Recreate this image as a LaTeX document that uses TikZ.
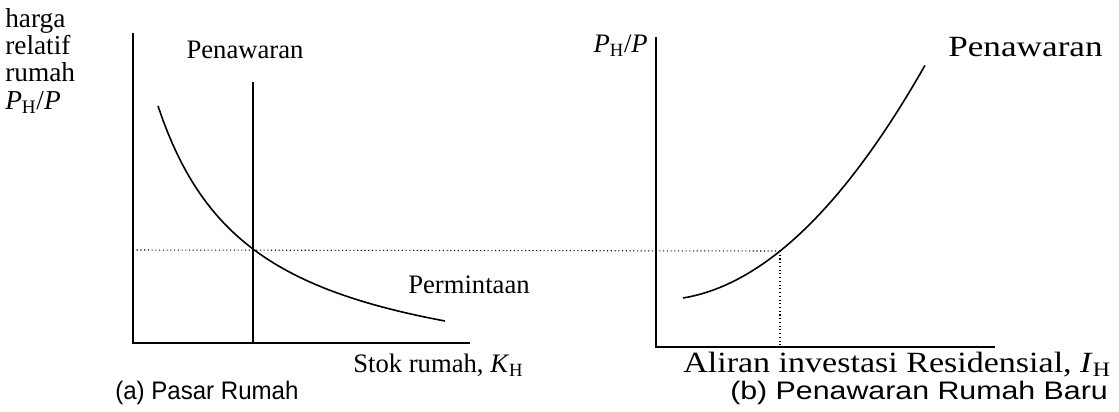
\documentclass[tikz,border=0pt]{standalone}
\usepackage{fontspec}
\setmainfont{Liberation Serif}
\setsansfont[FakeStretch=0.95]{Liberation Sans}
\newcommand{\PH}{\textit{P}\textsubscript{H}}
\begin{document}
\begin{tikzpicture}[x=0.75pt,y=-0.75pt,
  axis/.style={line width=1.5pt},
  curve/.style={line width=1.2pt},
  guide/.style={line width=0.8pt,dotted},
  lbl/.style={inner sep=0pt,font=\fontsize{20}{19.5}\selectfont},
  lblY/.style={inner sep=0pt,font=\fontsize{20.5}{20.5}\selectfont},
  lblB/.style={inner sep=0pt,font=\fontsize{22}{24}\selectfont},
  captxt/.style={inner sep=0pt,font=\sffamily\fontsize{19}{20}\selectfont}]
\useasboundingbox (0,0) rectangle (1119,411);
% ---------- panel (a)
\coordinate (aTop) at (133,33);
\coordinate (aO) at (133,343);
\coordinate (aEnd) at (470,343);
\draw[axis] (aTop) -- (aO) -- (aEnd);
\coordinate (sTop) at (253,82);
\coordinate (sBot) at (253,343);
\draw[axis] (sTop) -- (sBot);
\coordinate (eqA) at (253,249);
\draw[curve,domain=158:445,samples=60] plot ({\x},{392.3-272.56/((\x-62.8)/100)});
% ---------- panel (b)
\coordinate (bTop) at (656,37);
\coordinate (bO) at (656,347);
\coordinate (bEnd) at (995,347);
\draw[axis] (bTop) -- (bO) -- (bEnd);
\draw[curve,domain=0:242,samples=40] plot ({683+\x},{298-0.164*\x-0.0033*\x*\x});
\coordinate (eqB) at (780,251);
\coordinate (eqBbot) at (780,347);
\coordinate (hStart) at (133,250);
\draw[guide] (hStart) -- (eqB);
\draw[guide] (eqB) -- (eqBbot);
% ---------- labels
\node[lblY,anchor=north west,align=left] (ylab) at (5,8) {harga\\relatif\\rumah\\\PH/\textit{P}};
\node[lbl,anchor=base] (penA) at (245,58) {Penawaran};
\node[lbl,anchor=base west] (perm) at (408,293) {Permintaan};
\node[lbl,anchor=base west] (stok) at (353,372) {Stok rumah, \textit{K}\textsubscript{H}};
\node[captxt,anchor=base west] (capA) at (115,399) {(a) Pasar Rumah};
\node[lbl,anchor=base east] (ylabB) at (648,52) {\PH/\textit{P}};
\node[lblB,anchor=base west] (penB) at (948,56) {\scalebox{1.2}[1]{Penawaran}};
\node[lblB,anchor=base west] (aliran) at (683,372) {\scalebox{1.16}[1]{Aliran investasi Residensial, \textit{I}\textsubscript{H}}};
\node[captxt,anchor=base west] (capB) at (730,399) {\scalebox{1.26}[1]{(b) Penawaran Rumah Baru}};
\end{tikzpicture}
\end{document}
